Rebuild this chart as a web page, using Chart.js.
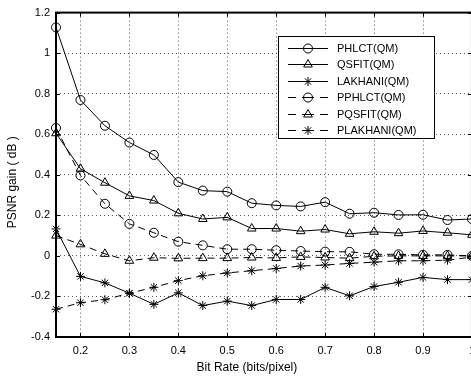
<!DOCTYPE html>
<html>
<head>
<meta charset="utf-8">
<script src="https://cdn.jsdelivr.net/npm/chart.js@4.4.1/dist/chart.umd.min.js"></script>
<style>
  html, body { margin: 0; padding: 0; background: #fff; overflow: hidden; }
  #holder { position: relative; width: 482px; height: 381px; }
</style>
</head>
<body>
<div id="holder"><canvas id="myChart"></canvas></div>
<script>
// data
const bitRate = [0.15, 0.2, 0.25, 0.3, 0.35, 0.4, 0.45, 0.5, 0.55, 0.6, 0.65, 0.7, 0.75, 0.8, 0.85, 0.9, 0.95, 1.0]

const phlct = [1.127, 0.769, 0.642, 0.559, 0.498, 0.364, 0.322, 0.317, 0.26, 0.249, 0.244, 0.265, 0.208, 0.213, 0.202, 0.203, 0.177, 0.182]
const qsfit = [0.605, 0.43, 0.361, 0.296, 0.273, 0.21, 0.182, 0.19, 0.135, 0.135, 0.122, 0.13, 0.109, 0.119, 0.112, 0.123, 0.114, 0.104]
const lakhani = [0.133, -0.101, -0.133, -0.184, -0.239, -0.182, -0.245, -0.223, -0.245, -0.215, -0.215, -0.155, -0.197, -0.151, -0.13, -0.106, -0.117, -0.117]
const pphlct = [0.631, 0.397, 0.257, 0.158, 0.114, 0.07, 0.052, 0.033, 0.033, 0.028, 0.024, 0.021, 0.02, 0.008, 0.008, 0.005, 0.005, 0.0]
const pqsfit = [0.1, 0.057, 0.01, -0.024, -0.009, -0.012, -0.011, -0.011, -0.008, -0.01, -0.005, -0.008, -0.011, -0.002, 0.0, 0.0, 0.0, 0.0]
const plakhani = [-0.263, -0.231, -0.216, -0.184, -0.155, -0.122, -0.098, -0.084, -0.073, -0.062, -0.05, -0.045, -0.037, -0.031, -0.024, -0.024, -0.021, -0.006]

const xTicks = [0.2, 0.3, 0.4, 0.5, 0.6, 0.7, 0.8, 0.9, 1]
const yTicks = [-0.4, -0.2, 0, 0.2, 0.4, 0.6, 0.8, 1, 1.2]

const xTitle = 'Bit Rate (bits/pixel)'
const yTitle = 'PSNR gain ( dB )'

const fontFamily = "'Liberation Sans', Arial, Helvetica, sans-serif"

function series(label, values, style, dashed) {
    return {
        label: label,
        data: bitRate.map((x, i) => ({ x: x, y: values[i] })),
        borderColor: '#000',
        borderWidth: 1,
        borderDash: dashed ? [7, 5] : [],
        pointStyle: style,
        pointRadius: style == 'triangle' ? 5 : 4.5,
        pointBorderColor: '#000',
        pointBackgroundColor: 'rgba(0,0,0,0)',
        pointBorderWidth: 1,
        tension: 0,
        fill: false,
        clip: false
    }
}

// hollow marker for the legend, same shapes as chart.js uses
function drawMarker(ctx, style, x, y, r) {
    ctx.beginPath()
    if (style == 'circle') {
        ctx.arc(x, y, r, 0, Math.PI * 2)
    } else if (style == 'triangle') {
        let rad = 0
        ctx.moveTo(x + Math.sin(rad) * r, y - Math.cos(rad) * r)
        rad += Math.PI * 2 / 3
        ctx.lineTo(x + Math.sin(rad) * r, y - Math.cos(rad) * r)
        rad += Math.PI * 2 / 3
        ctx.lineTo(x + Math.sin(rad) * r, y - Math.cos(rad) * r)
        ctx.closePath()
    } else {
        ctx.moveTo(x - r, y); ctx.lineTo(x + r, y)
        ctx.moveTo(x, y - r); ctx.lineTo(x, y + r)
        let d = r * Math.SQRT1_2
        ctx.moveTo(x - d, y - d); ctx.lineTo(x + d, y + d)
        ctx.moveTo(x - d, y + d); ctx.lineTo(x + d, y - d)
    }
    ctx.stroke()
}

// matlab style frame, inner ticks, legend and axis titles
const matlabFrame = {
    id: 'matlabFrame',
    afterDraw(chart) {
        const ctx = chart.ctx
        const a = chart.chartArea
        const xs = chart.scales.x
        const ys = chart.scales.y
        ctx.save()
        ctx.strokeStyle = '#000'
        ctx.lineWidth = 1
        ctx.beginPath()
        xTicks.forEach(v => {
            let px = Math.round(xs.getPixelForValue(v)) + 0.5
            ctx.moveTo(px, a.bottom); ctx.lineTo(px, a.bottom - 4)
            ctx.moveTo(px, a.top); ctx.lineTo(px, a.top + 4)
        })
        yTicks.forEach(v => {
            let py = Math.round(ys.getPixelForValue(v)) + 0.5
            ctx.moveTo(a.left, py); ctx.lineTo(a.left + 4, py)
            ctx.moveTo(a.right, py); ctx.lineTo(a.right - 4, py)
        })
        ctx.stroke()
        ctx.lineWidth = 2
        ctx.strokeRect(a.left, a.top, a.right - a.left, a.bottom - a.top)

        // legend
        let lx = Math.round(a.right - 194)
        let ly = Math.round(a.top + 23)
        ctx.fillStyle = '#fff'
        ctx.fillRect(lx, ly, 156, 102)
        ctx.lineWidth = 1
        ctx.strokeRect(lx + 0.5, ly + 0.5, 156, 102)
        ctx.font = '11px ' + fontFamily
        ctx.textAlign = 'left'
        ctx.textBaseline = 'middle'
        chart.data.datasets.forEach((ds, i) => {
            let y = Math.round(ly + 12 + i * 16.4) + 0.5
            let x0 = lx + 10
            ctx.beginPath()
            if (ds.borderDash.length) {
                ctx.moveTo(x0, y); ctx.lineTo(x0 + 8, y)
                ctx.moveTo(x0 + 14, y); ctx.lineTo(x0 + 26, y)
                ctx.moveTo(x0 + 32, y); ctx.lineTo(x0 + 40, y)
            } else {
                ctx.moveTo(x0, y); ctx.lineTo(x0 + 40, y)
            }
            ctx.stroke()
            drawMarker(ctx, ds.pointStyle, x0 + 20, y, ds.pointRadius)
            ctx.fillStyle = '#000'
            ctx.fillText(ds.label, lx + 59, y)
        })

        // axis titles
        ctx.font = '12px ' + fontFamily
        ctx.textAlign = 'center'
        ctx.fillStyle = '#000'
        ctx.fillText(xTitle, a.left + 0.459 * (a.right - a.left), a.bottom + 31)
        ctx.translate(13, a.top + 0.523 * (a.bottom - a.top))
        ctx.rotate(-Math.PI / 2)
        ctx.fillText(yTitle, 0, 0)
        ctx.restore()
    }
}

let data = {
    datasets: [
        series('PHLCT(QM)', phlct, 'circle', false),
        series('QSFIT(QM)', qsfit, 'triangle', false),
        series('LAKHANI(QM)', lakhani, 'star', false),
        series('PPHLCT(QM)', pphlct, 'circle', true),
        series('PQSFIT(QM)', pqsfit, 'triangle', true),
        series('PLAKHANI(QM)', plakhani, 'star', true)
    ]
}

let config = {
    type: 'line',
    data: data,
    options: {
        responsive: true,
        maintainAspectRatio: false,
        animation: false,
        layout: { padding: { top: 10, right: 0, left: 0, bottom: 0 } },
        plugins: {
            legend: { display: false },
            tooltip: { enabled: false }
        },
        scales: {
            x: {
                type: 'linear',
                min: 0.15,
                max: 1.0,
                afterBuildTicks: s => { s.ticks = xTicks.map(v => ({ value: v })) },
                afterFit: s => { s.height = 44 },
                grid: { color: '#555', drawTicks: false },
                border: { display: false, dash: [1, 3] },
                ticks: {
                    color: '#000',
                    padding: 7,
                    maxRotation: 0,
                    autoSkip: false,
                    font: { family: fontFamily, size: 11 },
                    callback: v => String(v)
                }
            },
            y: {
                min: -0.4,
                max: 1.2,
                afterBuildTicks: s => { s.ticks = yTicks.map(v => ({ value: v })) },
                afterFit: s => { s.width = 56 },
                grid: { color: '#555', drawTicks: false },
                border: { display: false, dash: [1, 3] },
                ticks: {
                    color: '#000',
                    padding: 6,
                    font: { family: fontFamily, size: 11 },
                    callback: v => String(v)
                }
            }
        }
    },
    plugins: [matlabFrame]
}

let myChart = new Chart(document.getElementById('myChart'), config)
</script>
</body>
</html>
